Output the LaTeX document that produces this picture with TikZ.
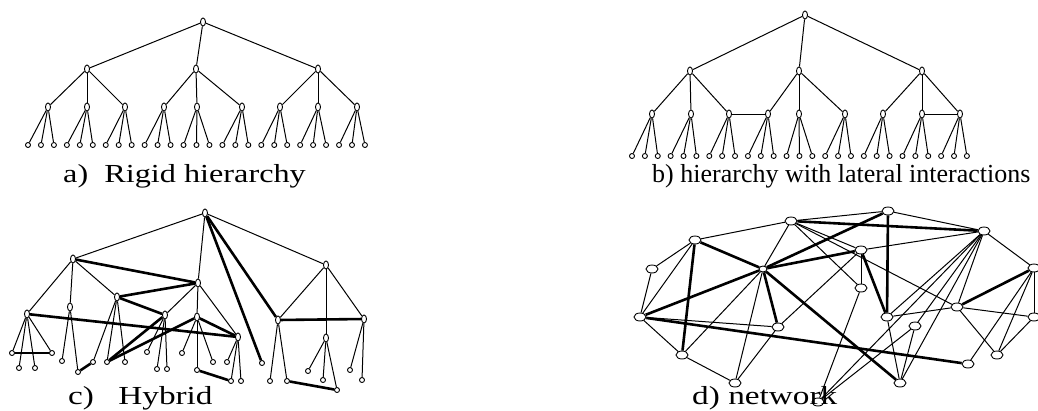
\documentclass[tikz,border=0pt]{standalone}
\usepackage{fontspec}
\setmainfont{Liberation Serif}
\usetikzlibrary{shapes.geometric}
\begin{document}
\begin{tikzpicture}[x=1pt,y=-1pt,
 tn/.style={ellipse,draw,line width=0.9pt,fill=white,inner sep=0pt,minimum width=5pt,minimum height=8pt},
 lf/.style={circle,draw,line width=0.9pt,fill=white,inner sep=0pt,minimum size=5pt},
 nn/.style={ellipse,draw,line width=0.9pt,fill=white,inner sep=0pt,minimum width=12pt,minimum height=8pt},
 ed/.style={line width=1pt},
 tk/.style={line width=2.6pt},
 lab/.style={anchor=base west,inner sep=0pt,font=\fontsize{26}{30}\selectfont}]
\useasboundingbox (0,0) rectangle (1038,410);
% ---------------- a) rigid hierarchy
\node[tn] (a) at (203,22) {};
\foreach \x [count=\i] in {87,196,318} \node[tn] (a\i) at (\x,69) {};
\foreach \x [count=\i] in {48,87,125,164,197,242,280,318,357} \node[tn] (aa\i) at (\x,107) {};
\foreach \i in {1,...,27} \node[lf] (al\i) at ({28+12.96*(\i-1)},145) {};
\foreach \i in {1,2,3} \draw[ed] (a) -- (a\i);
\foreach \i in {1,...,9} {\pgfmathtruncatemacro\p{int((\i-1)/3)+1}\draw[ed] (a\p) -- (aa\i);}
\foreach \i in {1,...,27} {\pgfmathtruncatemacro\p{int((\i-1)/3)+1}\draw[ed] (aa\p) -- (al\i);}
\node[lab] (la) at (63,182) {\scalebox{1.24}[1]{a)~~Rigid hierarchy}};
% ---------------- b) lateral
\node[tn] (b) at (805,15) {};
\foreach \x [count=\i] in {690,799,922} \node[tn] (b\i) at (\x,71) {};
\foreach \x [count=\i] in {652,691,729,768,799,845,883,922,960} \node[tn] (bb\i) at (\x,114) {};
\foreach \i in {1,...,27} \node[lf] (bl\i) at ({632+12.88*(\i-1)},156) {};
\foreach \i in {1,2,3} \draw[ed] (b) -- (b\i);
\foreach \i in {1,...,9} {\pgfmathtruncatemacro\p{int((\i-1)/3)+1}\draw[ed] (b\p) -- (bb\i);}
\foreach \i in {1,...,27} {\pgfmathtruncatemacro\p{int((\i-1)/3)+1}\draw[ed] (bb\p) -- (bl\i);}
\draw[ed] (bb3) -- (bb4);
\draw[ed] (bb8) -- (bb9);
\node[lab] (lb) at (652,182) {b) hierarchy with lateral interactions};
% ---------------- c) hybrid
\foreach \n/\x/\y in {R/205/213,A/73/259,B/326/265,C/198/283,D/117/297,H/70/307,F/27/314,E/165/315,I/197/317,J/278/320,G/238/337,L/326/338,M/364/319}
  \node[tn] (c\n) at (\x,\y) {};
\foreach \n/\x/\y in {f1/12/353,f2/52/353,f3/19/368,f4/35/368,h1/62/361,h2/78/372,h3/93/362,d1/107/362,d2/125/362,
  e1/147/352,e2/157/369,e3/167/369,i1/182/353,i2/197/370,i3/213/362,g1/227/362,g2/231/381,g3/241/381,K/262/363,
  j1/270/381,j2/287/381,l1/308/371,l2/323/380,l3/337/390,m1/350/370,m2/362/380}
  \node[lf] (c\n) at (\x,\y) {};
\foreach \u/\v in {R/A,R/B,R/C,A/F,A/H,A/D,C/E,C/I,C/G,B/J,B/L,B/M,F/f1,F/f3,F/f4,F/f2,H/h1,H/h2,D/h3,D/d1,D/d2,
  E/e1,E/e2,E/e3,I/i1,I/i2,I/i3,G/g1,G/g2,G/g3,J/j1,J/j2,L/l1,L/l2,L/l3,M/m1,M/m2}
  \draw[ed] (c\u) -- (c\v);
\foreach \u/\v in {A/C,D/C,D/E,F/G,d1/E,d1/I,I/G,R/J,R/K,J/M,f1/f2,h2/h3,i2/g2,j2/l3}
  \draw[tk] (c\u) -- (c\v);
\node[lab] (lc) at (68,404) {\scalebox{1.28}[1]{c)\hspace{19pt}Hybrid}};
% ---------------- d) network
\foreach \n/\x/\y in {1/652/269,2/695/240,3/791/221,4/888/211,5/984/231,6/861/250,8/640/317,9/861/288,10/887/317,
  11/957/307,12/1034/268,13/1034/317,14/915/326,15/778/327,16/682/355,17/735/383,18/900/383,19/968/364,20/997/355,21/818/402}
  \node[nn] (n\n) at (\x,\y) {};
\node[nn,minimum width=8pt,minimum height=6pt] (n7) at (763,269) {};
\foreach \u/\v in {1/2,2/3,3/4,4/5,5/12,1/8,2/8,8/16,16/17,17/15,8/15,7/3,7/16,7/17,6/9,6/5,6/15,3/9,3/11,9/21,
  5/10,5/14,5/18,5/21,5/11,10/11,11/13,12/20,12/19,11/20,10/18,14/18,12/13,14/21,20/13,3/6}
  \draw[ed] (n\u) -- (n\v);
\foreach \u/\v in {2/7,2/16,7/8,7/4,7/6,7/15,7/18,3/5,4/10,6/10,12/11,8/19}
  \draw[tk] (n\u) -- (n\v);
\node[lab] (ld) at (692,404) {\scalebox{1.28}[1]{d) network}};
\end{tikzpicture}
\end{document}
